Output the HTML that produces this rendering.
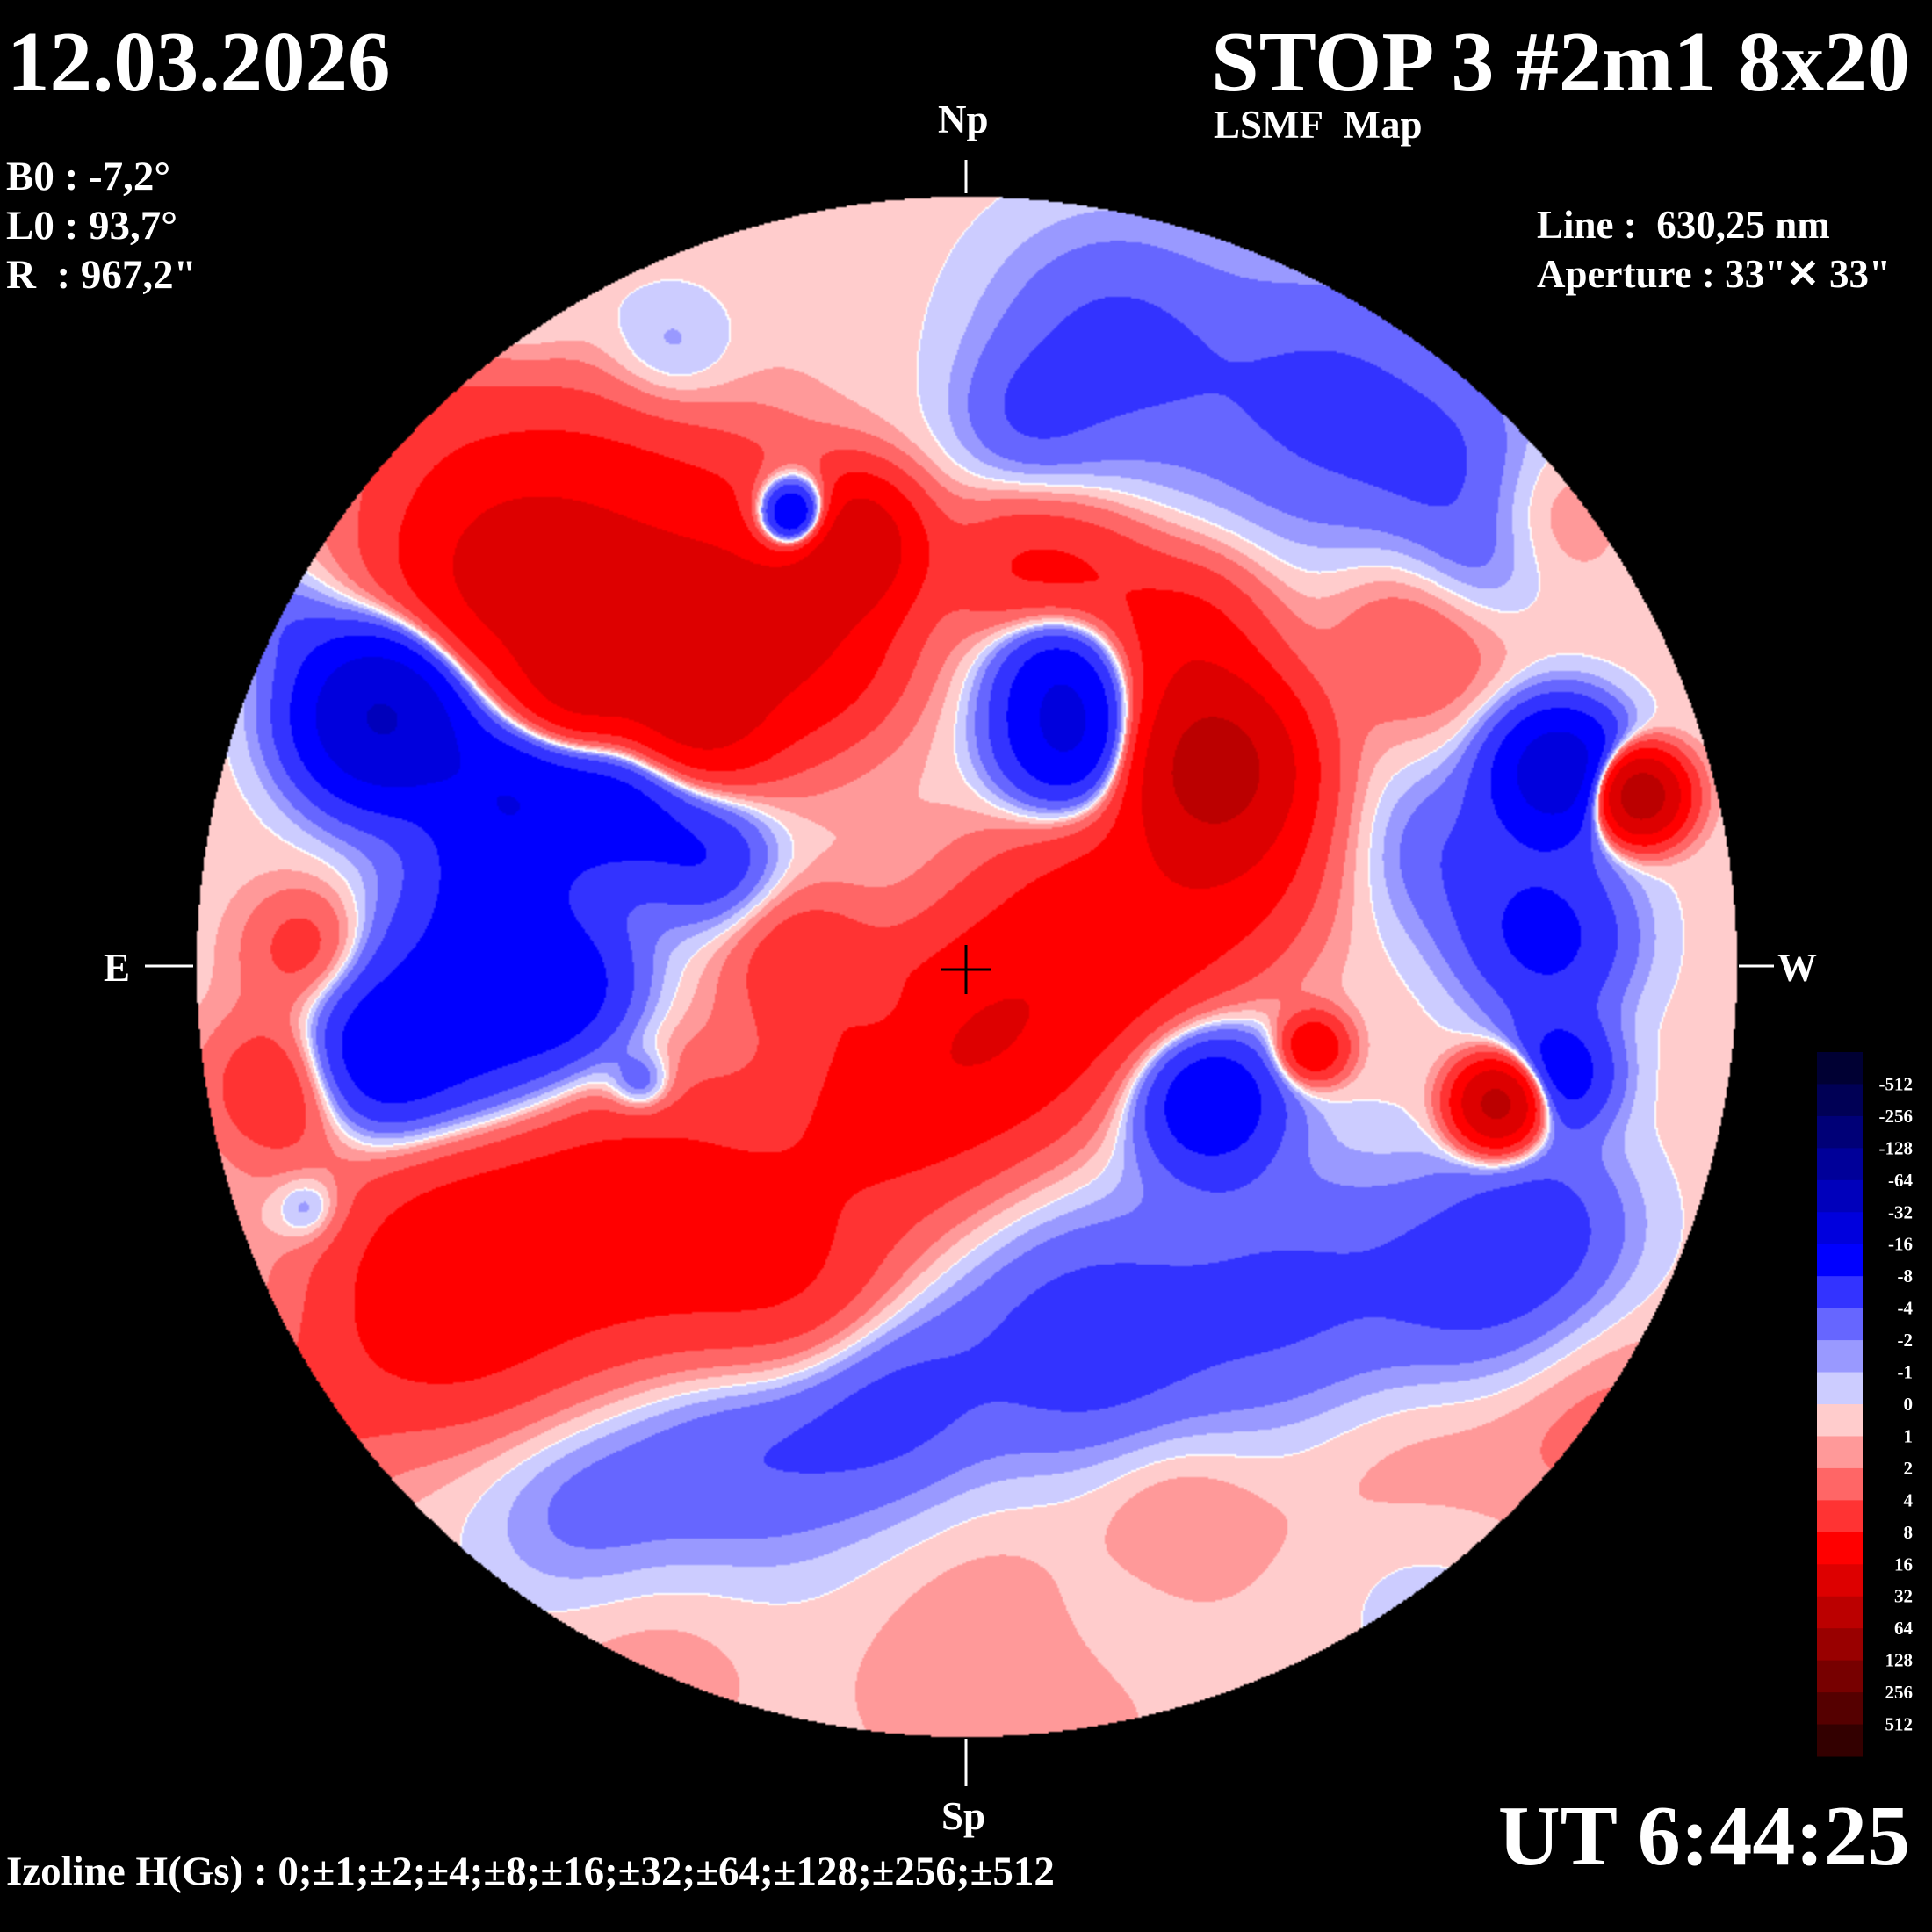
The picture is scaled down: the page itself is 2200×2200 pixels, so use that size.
<!DOCTYPE html>
<html><head><meta charset="utf-8">
<style>
html,body{margin:0;padding:0;background:#000;}
#wrap{position:relative;width:2200px;height:2200px;background:#000;overflow:hidden;font-family:"Liberation Serif",serif;font-weight:bold;color:#fff;}
.t{position:absolute;white-space:nowrap;line-height:1;}
canvas{position:absolute;left:0;top:0;}
svg{position:absolute;left:0;top:0;}
</style></head>
<body>
<div id="wrap">
<canvas id="cv" width="1100" height="1100" style="width:2200px;height:2200px"></canvas>
<svg width="2200" height="2200">
  <g stroke="#fff" stroke-width="3">
    <line x1="1100" y1="182" x2="1100" y2="220"/>
    <line x1="1100" y1="1980" x2="1100" y2="2034"/>
    <line x1="165" y1="1100" x2="220" y2="1100"/>
    <line x1="1980" y1="1100" x2="2020" y2="1100"/>
  </g>
  <g stroke="#000" stroke-width="3">
    <line x1="1072" y1="1104" x2="1128" y2="1104"/>
    <line x1="1100" y1="1076" x2="1100" y2="1132"/>
  </g>
  <g id="cbar"></g>
</svg>
<div class="t" style="left:8px;top:22px;font-size:97px">12.03.2026</div>
<div class="t" style="right:25px;top:22px;font-size:98px">STOP 3 #2m1 8x20</div>
<div class="t" style="left:1382px;top:120px;font-size:45px">LSMF&nbsp; Map</div>
<div class="t" style="left:1068px;top:114px;font-size:45px">Np</div>
<div class="t" style="left:1072px;top:2046px;font-size:45px">Sp</div>
<div class="t" style="left:118px;top:1080px;font-size:45px">E</div>
<div class="t" style="left:2024px;top:1080px;font-size:45px">W</div>
<div class="t" style="left:7px;top:178px;font-size:47px">B0 : -7,2°</div>
<div class="t" style="left:7px;top:234px;font-size:47px">L0 : 93,7°</div>
<div class="t" style="left:7px;top:290px;font-size:47px">R&nbsp; : 967,2"</div>
<div class="t" style="left:1750px;top:234px;font-size:45px">Line :&nbsp; 630,25 nm</div>
<div class="t" style="left:1750px;top:290px;font-size:45px">Aperture : 33"✕ 33"</div>
<div class="t" style="right:25px;top:2042px;font-size:98px">UT 6:44:25</div>
<div class="t" style="left:7px;top:2108px;font-size:47px">Izoline H(Gs) : 0;±1;±2;±4;±8;±16;±32;±64;±128;±256;±512</div>
</div>
<script>
// Source blobs in 1568-px reference coordinates
const srcX = [470,600,400,560,690,660,985,960,1000,900,800,720,650,820,880,1330,1215,1065,420,560,350,650,230,250,470,1150,1250,330,1130,520,820,950,1300,250,
              310,410,510,380,300,460,580,400,870,860,645,1265,1255,1265,1180,980,900,1080,830,1180,1200,600,720,880,1050,1200,1260,470,250,520,710,540,420,230,1150,900];
const srcY = [460,500,470,580,440,520,620,520,700,760,840,900,780,460,470,645,895,850,990,1000,1060,1050,880,770,560,520,420,330,1180,1320,1340,1220,1150,1150,
              580,640,640,830,860,800,700,720,600,540,420,625,760,870,690,890,280,330,340,380,460,1160,1130,1090,1060,1040,990,1230,980,880,810,290,250,500,1280,1300];
const srcS = [90,70,60,40,35,50,45,45,50,70,60,60,40,40,40,22,22,18,90,80,60,60,40,35,35,50,40,60,80,70,90,50,60,50,
              45,45,50,70,40,40,35,40,40,35,22,35,45,30,50,40,70,80,40,50,40,80,60,70,80,60,50,60,20,18,14,40,40,30,60,50];
const srcA = [14,12,10,20,25,8,40,10,8,12,12,8,6,6,6,50,40,15,10,8,8,6,8,6,15,4,2,2,2,1.5,1.5,2,2,3,
              -35,-14,-14,-14,-10,-8,-6,-6,-18,-10,-30,-25,-10,-12,-4,-15,-5,-5,-3,-3,-3,-5,-5,-6,-5,-5,-4,-3,-4,-6,-4,-3,-2,-3,-1.5,-1];
const levels = [1,2,4,8,16,32,64,128,256,512];
const posColors = ['#ffcccc','#ff9999','#ff6666','#ff3333','#ff0000','#dd0000','#bb0000','#990000','#770000','#550000','#330000'];
const negColors = ['#ccccff','#9999ff','#6666ff','#3333ff','#0000ff','#0000dd','#0000bb','#000099','#000077','#000055','#000033'];
const barLabels = ['-512','-256','-128','-64','-32','-16','-8','-4','-2','-1','0','1','2','4','8','16','32','64','128','256','512'];
const baseline = 0.5;

function hex(c){return [parseInt(c.substr(1,2),16),parseInt(c.substr(3,2),16),parseInt(c.substr(5,2),16)];}
const P = posColors.map(hex), N = negColors.map(hex);
const cv = document.getElementById('cv'), ctx = cv.getContext('2d');
const W = 1100, sc = 1568/1100;
const img = ctx.createImageData(W,W);
const field = new Float32Array(W*W);
const cx=784, cy=784, R=625;
for(let j=0;j<W;j++){
  const y=j*sc;
  for(let i=0;i<W;i++){
    const x=i*sc;
    const dx=x-cx, dy=y-cy;
    if(dx*dx+dy*dy>R*R){field[j*W+i]=NaN;continue;}
    let f=baseline;
    for(let k=0;k<srcX.length;k++){
      const ex=x-srcX[k], ey=y-srcY[k], s=srcS[k];
      f+=srcA[k]*Math.exp(-(ex*ex+ey*ey)/(2*s*s));
    }
    field[j*W+i]=f;
  }
}
for(let j=0;j<W;j++)for(let i=0;i<W;i++){
  const idx=j*W+i, f=field[idx], o=idx*4;
  if(isNaN(f)){img.data[o]=0;img.data[o+1]=0;img.data[o+2]=0;img.data[o+3]=255;continue;}
  let c;
  const a=Math.abs(f); let k=0; while(k<levels.length && a>=levels[k]) k++;
  c = f>=0 ? P[k] : N[k];
  if(i>0&&j>0){
    const l=field[idx-1], u=field[idx-W];
    if((!isNaN(l)&&(l>=0)!==(f>=0))||(!isNaN(u)&&(u>=0)!==(f>=0))) c=[255,255,255];
  }
  img.data[o]=c[0];img.data[o+1]=c[1];img.data[o+2]=c[2];img.data[o+3]=255;
}
ctx.putImageData(img,0,0);

const g=document.getElementById('cbar');
const ns='http://www.w3.org/2000/svg';
const barCols=negColors.slice().reverse().concat(posColors);
const top0=1198, bh=(2000-1198)/barCols.length;
barCols.forEach((col,k)=>{
  const r=document.createElementNS(ns,'rect');
  r.setAttribute('x',2069);r.setAttribute('y',top0+k*bh);r.setAttribute('width',52);r.setAttribute('height',bh+0.5);r.setAttribute('fill',col);
  
  
  g.appendChild(r);
});
barLabels.forEach((lb,k)=>{
  const t=document.createElementNS(ns,'text');
  t.setAttribute('x',2178);t.setAttribute('y',top0+(k+1)*bh+7);t.setAttribute('text-anchor','end');
  t.setAttribute('fill','#fff');t.setAttribute('font-size','21');t.setAttribute('font-weight','bold');t.setAttribute('font-family','Liberation Serif, serif');
  t.textContent=lb;
  
  
  g.appendChild(t);
});
</script>
</body></html>
